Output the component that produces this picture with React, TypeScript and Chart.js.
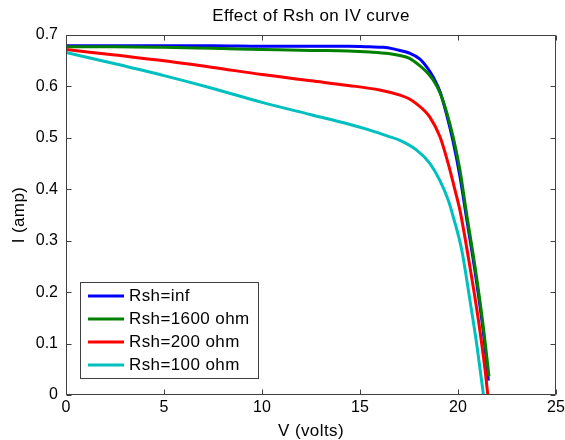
import React, { useEffect, useRef } from "react";
import { Chart, registerables } from "chart.js";

Chart.register(...registerables);

// Labels
const TITLE = "Effect of Rsh on IV curve";
const X_LABEL = "V (volts)";
const Y_LABEL = "I (amp)";
const X_TICKS = [0, 5, 10, 15, 20, 25];
const Y_TICKS = [0, 0.1, 0.2, 0.3, 0.4, 0.5, 0.6, 0.7];

const SERIES_NAMES = ["Rsh=inf", "Rsh=1600 ohm", "Rsh=200 ohm", "Rsh=100 ohm"];
const SERIES_COLORS = ["#0000ff", "#008000", "#ff0000", "#00bfbf"];

// Rsh = inf
const V_INF = [0, 2.5, 5, 7.5, 10, 12.5, 14.4, 15.5, 16.2, 16.7, 17.04, 17.5, 18.06, 18.4, 18.74, 19.08, 19.42, 19.75, 20.1, 20.44, 20.87, 21.29, 21.55];
const I_INF = [0.679, 0.679, 0.679, 0.679, 0.678, 0.678, 0.678, 0.677, 0.676, 0.673, 0.670, 0.665, 0.653, 0.638, 0.618, 0.590, 0.545, 0.493, 0.425, 0.343, 0.240, 0.123, 0.028];

// Rsh = 1600 ohm
const V_1600 = [0, 2.5, 5, 7.5, 10, 12.5, 14.4, 15.5, 16.45, 17.04, 17.5, 18.06, 18.4, 18.74, 19.08, 19.42, 19.75, 20.1, 20.44, 20.87, 21.29, 21.58];
const I_1600 = [0.677, 0.677, 0.676, 0.674, 0.672, 0.670, 0.669, 0.667, 0.664, 0.660, 0.655, 0.640, 0.628, 0.612, 0.588, 0.550, 0.502, 0.437, 0.352, 0.249, 0.133, 0.036];

// Rsh = 200 ohm
const V_200 = [0, 2.5, 5, 7.5, 10, 12.5, 14.4, 16, 17.04, 17.5, 17.89, 18.57, 19.08, 19.5, 19.85, 20.1, 20.61, 21.04, 21.38, 21.52];
const I_200 = [0.672, 0.661, 0.650, 0.637, 0.623, 0.611, 0.602, 0.593, 0.583, 0.576, 0.566, 0.540, 0.502, 0.450, 0.398, 0.359, 0.249, 0.146, 0.049, 0.0];

// Rsh = 100 ohm
const V_100 = [0, 2.5, 5, 7.5, 10, 12.5, 14.4, 15.5, 16.45, 17.04, 17.89, 18.57, 19.08, 19.5, 19.76, 20.19, 20.61, 20.95, 21.3];
const I_100 = [0.666, 0.644, 0.621, 0.596, 0.569, 0.545, 0.527, 0.515, 0.503, 0.495, 0.476, 0.450, 0.417, 0.379, 0.346, 0.282, 0.184, 0.100, 0.0];

const SERIES_V = [V_INF, V_1600, V_200, V_100];
const SERIES_I = [I_INF, I_1600, I_200, I_100];

const FONT = "'Liberation Sans', Arial, Helvetica, sans-serif";
const AXIS_COLOR = "#404040";

// Draws the MATLAB-style frame: boxed axes with inward ticks, title, axis labels and legend.
const framePlugin = {
  id: "matlabFrame",
  afterDatasetsDraw(chart: any) {
    const { ctx, chartArea } = chart;
    const { left, right, top, bottom } = chartArea;
    const xs = chart.scales.x;
    const ys = chart.scales.y;
    const tick = 5;
    ctx.save();
    ctx.strokeStyle = AXIS_COLOR;
    ctx.lineWidth = 1;
    const L = Math.round(left) + 0.5;
    const R = Math.round(right) - 0.5;
    const T = Math.round(top) + 0.5;
    const B = Math.round(bottom) - 0.5;
    ctx.beginPath();
    ctx.rect(L, T, R - L, B - T);
    for (const v of X_TICKS) {
      const px = Math.round(xs.getPixelForValue(v)) + 0.5;
      ctx.moveTo(px, B);
      ctx.lineTo(px, B - tick);
      ctx.moveTo(px, T);
      ctx.lineTo(px, T + tick);
    }
    for (const v of Y_TICKS) {
      const py = Math.round(ys.getPixelForValue(v)) + 0.5;
      ctx.moveTo(L, py);
      ctx.lineTo(L + tick, py);
      ctx.moveTo(R, py);
      ctx.lineTo(R - tick, py);
    }
    ctx.stroke();
    ctx.restore();
  },
  afterDraw(chart: any) {
    const { ctx, chartArea } = chart;
    const { left, right, top, bottom } = chartArea;
    const cx = (left + right) / 2;
    const cy = (top + bottom) / 2;
    ctx.save();
    if ("letterSpacing" in ctx) (ctx as any).letterSpacing = "0.4px";
    ctx.fillStyle = "#000";
    ctx.textAlign = "center";
    ctx.textBaseline = "alphabetic";
    ctx.font = `17px ${FONT}`;
    ctx.fillText(TITLE, cx, 21);
    ctx.fillText(X_LABEL, cx, 436);
    ctx.save();
    ctx.translate(24, cy);
    ctx.rotate(-Math.PI / 2);
    ctx.fillText(Y_LABEL, 0, 0);
    ctx.restore();

    // legend box
    const bx = 80.5, by = 282.5, bw = 178, bh = 96;
    ctx.fillStyle = "#fff";
    ctx.fillRect(bx, by, bw, bh);
    ctx.strokeStyle = AXIS_COLOR;
    ctx.lineWidth = 1;
    ctx.strokeRect(bx, by, bw, bh);
    ctx.textAlign = "left";
    ctx.textBaseline = "middle";
    ctx.font = `17px ${FONT}`;
    SERIES_NAMES.forEach((name, i) => {
      const y = 296 + i * 23;
      ctx.strokeStyle = SERIES_COLORS[i];
      ctx.lineWidth = 3;
      ctx.beginPath();
      ctx.moveTo(88, y);
      ctx.lineTo(124, y);
      ctx.stroke();
      ctx.fillStyle = "#000";
      ctx.fillText(name, 129, y);
    });
    ctx.restore();
  },
};

export default function App() {
  const canvasRef = useRef<HTMLCanvasElement | null>(null);

  useEffect(() => {
    const canvas = canvasRef.current;
    if (!canvas) return;
    const datasets = SERIES_NAMES.map((name, i) => ({
      label: name,
      data: SERIES_V[i].map((v, k) => ({ x: v, y: SERIES_I[i][k] })),
      borderColor: SERIES_COLORS[i],
      backgroundColor: SERIES_COLORS[i],
      borderWidth: 3,
      pointRadius: 0,
      cubicInterpolationMode: "monotone" as const,
      fill: false,
      // later series sit on top
      order: SERIES_NAMES.length - i,
    }));

    const chart = new Chart(canvas, {
      type: "line",
      data: { datasets },
      options: {
        animation: false,
        responsive: true,
        maintainAspectRatio: false,
        layout: { padding: { left: 0, right: 9, top: 35, bottom: 0 } },
        plugins: {
          legend: { display: false },
          title: { display: false },
          tooltip: { enabled: false },
        },
        scales: {
          x: {
            type: "linear",
            min: 0,
            max: 25,
            grid: { display: false, drawTicks: false },
            border: { display: false },
            ticks: {
              stepSize: 5,
              padding: 3,
              color: "#000",
              font: { family: FONT, size: 16 },
              maxRotation: 0,
              callback: (v: any) => String(v),
            },
            afterFit: (s: any) => {
              s.height = 45;
              s.paddingLeft = 0;
              s.paddingRight = 0;
            },
          },
          y: {
            type: "linear",
            min: 0,
            max: 0.7,
            grid: { display: false, drawTicks: false },
            border: { display: false },
            ticks: {
              stepSize: 0.1,
              padding: 8,
              color: "#000",
              font: { family: FONT, size: 16 },
              callback: (v: any) => (Math.abs(v) < 1e-9 ? "0" : Number(v).toFixed(1)),
            },
            afterFit: (s: any) => {
              s.width = 66;
              s.paddingTop = 0;
              s.paddingBottom = 0;
            },
          },
        },
      },
      plugins: [framePlugin],
    });
    return () => chart.destroy();
  }, []);

  return (
    <div style={{ position: "absolute", left: 0, top: 0, width: 565, height: 440, background: "#fff" }}>
      <canvas ref={canvasRef} />
    </div>
  );
}
